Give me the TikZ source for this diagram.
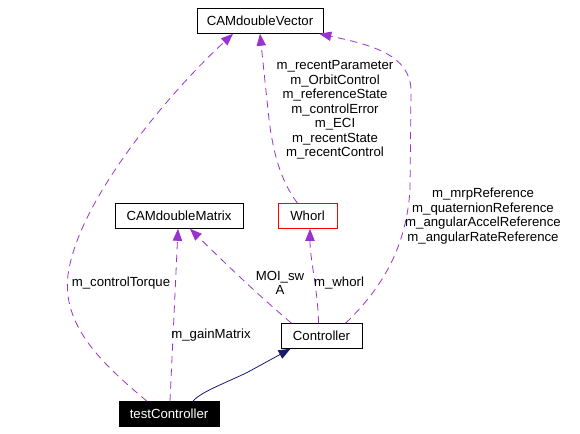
\documentclass[tikz,border=0pt]{standalone}
\usepackage{fontspec}
\setmainfont{Liberation Sans}
\usepackage{tikz}
\usetikzlibrary{arrows.meta,calc}

\definecolor{usecol}{HTML}{9A32CD}
\definecolor{inhcol}{HTML}{191970}

\begin{document}
\begin{tikzpicture}[x=0.75pt, y=-0.75pt, font=\fontsize{9.9}{10.9}\selectfont,
    cls/.style={draw, inner sep=0pt, minimum height=18.75pt},
    use/.style={draw=usecol, dash pattern=on 5.5pt off 4pt, line width=0.6pt,
        -{Triangle[length=9pt, width=7pt, fill=usecol]}},
    inh/.style={draw=inhcol, line width=0.6pt,
        -{Triangle[length=9pt, width=7pt, fill=inhcol]}},
    lbl/.style={align=center, inner sep=0pt}]
    \useasboundingbox (0,0) rectangle (580,433);

    \node[cls, minimum width=94.5pt] (vec) at (260,21) {CAMdoubleVector};
    \node[cls, minimum width=96pt] (mat) at (179,216) {CAMdoubleMatrix};
    \node[cls, draw=red, minimum width=44.25pt] (whorl) at (307.5,216) {Whorl};
    \node[cls, minimum width=60.75pt] (ctrl) at (321.5,336) {Controller};
    \node[cls, fill=black, text=white, minimum width=75pt] (tc) at (169,414) {testController};

    % uses
    \draw[use] ($(tc.north)+(-22,0)$) .. controls (100,362) and (62,325) .. (68,275)
        .. controls (78,200) and (170,92) .. ($(vec.south)+(-27,0)$);
    \draw[use] ($(tc.north)+(1,0)$) -- ($(mat.south)+(-1,0)$);
    \draw[use] ($(ctrl.north)+(-30,0)$) .. controls (270,305) and (240,278) .. ($(mat.south)+(11,0)$);
    \draw[use] ($(ctrl.north)+(-3,0)$) .. controls (318,290) and (310,260) .. ($(whorl.south)+(2.5,0)$);
    \draw[use] ($(ctrl.north)+(24,0)$) .. controls (380,290) and (406,250) .. (410,190)
        -- (411,90) .. controls (410,55) and (372,45) .. ($(vec.south east)+(-4,0)$);
    \draw[use] ($(whorl.north)+(-10,0)$) .. controls (280,180) and (272,150) .. (268,110)
        -- (vec.south);

    % inheritance
    \draw[inh] ($(tc.north)+(24,0)$) .. controls (200,392) and (228,382) .. (248,372)
        -- ($(ctrl.south)+(-31,0)$);

    \node[lbl] (ltorque) at (121,283) {m\_controlTorque};
    \node[lbl] (lgain) at (211,335) {m\_gainMatrix};
    \node[lbl] (lmoi) at (280,283) {MOI\_sw\\A};
    \node[lbl] (lwhorl) at (339,283) {m\_whorl};
    \node[lbl] (lstate) at (335,110) {m\_recentParameter\\m\_OrbitControl\\m\_referenceState\\m\_controlError\\m\_ECI\\m\_recentState\\m\_recentControl};
    \node[lbl] (lref) at (483,216) {m\_mrpReference\\m\_quaternionReference\\m\_angularAccelReference\\m\_angularRateReference};
\end{tikzpicture}
\end{document}
